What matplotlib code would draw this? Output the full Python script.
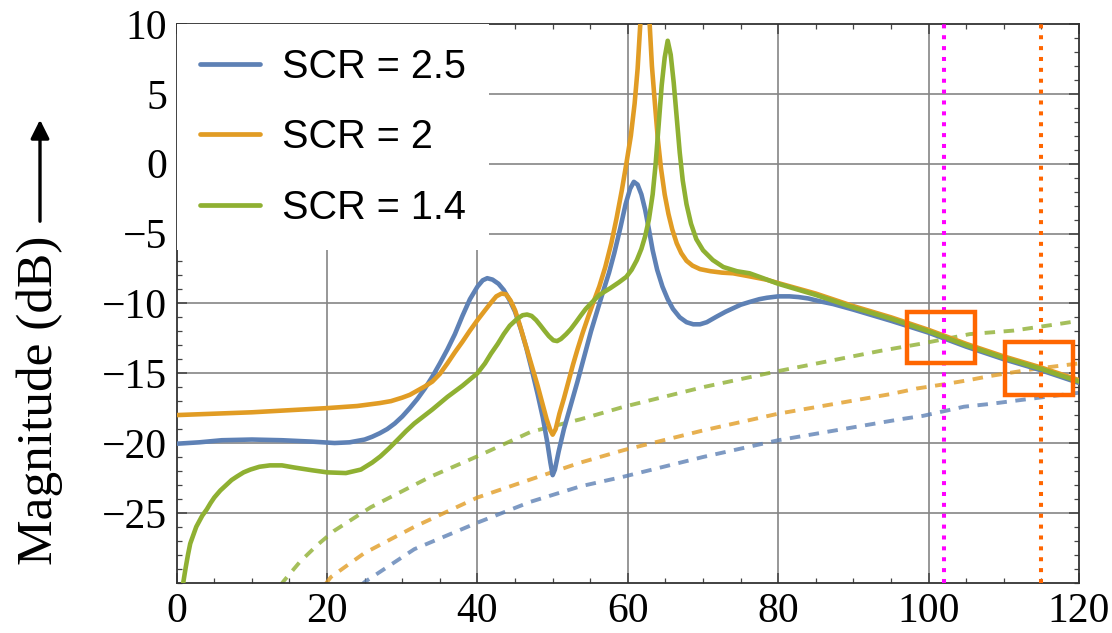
import matplotlib
matplotlib.use("Agg")
import matplotlib.pyplot as plt
from matplotlib.patches import Rectangle, FancyArrowPatch
from matplotlib.ticker import MultipleLocator

# ---------------- data ----------------
labels = ["SCR = 2.5", "SCR = 2", "SCR = 1.4"]

blue_x = [0, 3, 6, 10, 14, 18, 21, 23, 25, 26, 27, 28, 29, 30, 31, 32, 33, 34, 35, 36, 37, 38, 39,
          40, 40.7, 41.3, 42, 42.8, 43.5, 44.2, 45, 45.8, 46.5, 47.2, 48, 48.7, 49.3, 49.7, 50,
          50.3, 50.8, 51.5, 52.4, 53.3, 54.2, 55.1, 56, 56.8, 57.5, 58.2, 59, 59.7, 60.3, 60.8,
          61.3, 61.8, 62.3, 62.8, 63.3, 63.9, 64.6, 65.3, 66.0, 66.9, 67.8, 68.7, 69.6, 70.5, 71.8,
          73, 74, 75, 76.2, 77.5, 78.5, 80, 81.5, 82.7, 84, 85.5, 87.3, 90, 95, 100, 105, 110,
          115, 120]
blue_y = [-20.05, -19.95, -19.8, -19.75, -19.8, -19.9, -20.0, -19.95, -19.75, -19.55, -19.3, -19.0,
          -18.6, -18.1, -17.5, -16.85, -16.1, -15.25, -14.3, -13.3, -12.2, -10.9, -9.7, -8.8,
          -8.35, -8.2, -8.3, -8.6, -9.05, -9.7, -10.6, -11.9, -13.2, -14.7, -16.5, -18.2, -20.0,
          -21.4, -22.3, -21.9, -20.6, -19.0, -17.3, -15.6, -13.8, -12.0, -10.4, -9.0, -7.8, -6.4,
          -4.6, -2.9, -1.8, -1.3, -1.5, -2.2, -3.3, -4.7, -6.2, -7.6, -8.8, -9.7, -10.4, -11.0,
          -11.35, -11.5, -11.5, -11.35, -10.95, -10.6, -10.35, -10.1, -9.9, -9.7, -9.6, -9.5,
          -9.5, -9.55, -9.65, -9.85, -10.05, -10.45, -11.25, -12.1, -13.1, -14.0, -14.8, -15.7]

orange_x = [0, 5, 10, 15, 20, 24, 27, 28.5, 30, 31, 32, 33, 34, 35, 36, 37, 38, 39, 40, 41, 41.8,
            42.5, 43.2, 43.8, 44.4, 45, 45.6, 46.2, 46.8, 47.4, 48.0, 48.6, 49.2, 49.7, 50.0, 50.4,
            50.9, 51.5, 52.1, 52.7, 53.3, 54, 54.7, 55.5, 56.2, 57, 57.8, 58.5, 59.2, 59.8, 60.4,
            60.9, 61.3, 61.6, 62.0, 62.3, 62.6, 62.9, 63.2, 63.6, 64.0, 64.4, 64.9, 65.4, 65.9,
            66.5, 67.1, 67.8, 68.6, 69.6, 71, 72.5, 74, 76, 78.4, 80, 85, 90, 95, 100, 105, 110,
            115, 120]
orange_y = [-18.0, -17.9, -17.8, -17.65, -17.5, -17.35, -17.14, -17.0, -16.75, -16.55, -16.25,
            -15.95, -15.6, -15.05, -14.3, -13.5, -12.75, -11.95, -11.2, -10.5, -9.95, -9.5, -9.3,
            -9.35, -9.8, -10.5, -11.5, -12.6, -13.7, -14.8, -15.9, -17.1, -18.3, -19.1, -19.4,
            -19.0, -17.9, -16.8, -15.6, -14.4, -13.3, -12.1, -11.0, -9.8, -8.8, -7.4, -5.7, -3.9,
            -1.9, 0.0, 2.0, 4.3, 6.8, 9.5, 13.0, 14.5, 13.0, 10.0, 7.0, 4.3, 1.7, -0.3, -2.2, -3.6,
            -4.7, -5.7, -6.4, -6.95, -7.3, -7.55, -7.7, -7.8, -7.85, -8.05, -8.3, -8.55, -9.3,
            -10.2, -11.0, -11.9, -12.9, -13.8, -14.6, -15.5]

green_x = [0.6, 0.9, 1.2, 1.5, 1.8, 2.2, 2.6, 3.0, 3.4, 4.0, 4.5, 5.0, 5.8, 6.7, 7.3, 8.0, 8.9,
           9.8, 11, 12.4, 14.0, 15.6, 18, 20, 22.5, 24.5, 26, 27.1, 28.3, 29.5, 30.5, 31.6, 32.8,
           34, 35, 36, 37, 38, 39, 40, 41, 41.8, 42.7, 43.5, 44.3, 45.3, 46.0, 46.6, 47.2, 47.8,
           48.4, 48.9, 49.5, 50.1, 50.6, 51.1, 51.8, 52.4, 53.1, 53.7, 54.4, 55.1, 56.2, 57.7,
           58.8, 59.8, 60.5, 61.2, 61.8, 62.3, 62.8, 63.3, 63.7, 64.1, 64.5, 64.9, 65.3, 65.7,
           66.1, 66.5, 66.9, 67.3, 67.8, 68.4, 69.1, 70, 71.3, 72.7, 74.5, 76.2, 78, 80, 85, 90,
           95, 100, 105, 110, 115, 120]
green_y = [-31.0, -29.9, -28.9, -28.0, -27.2, -26.6, -26.0, -25.6, -25.2, -24.75, -24.3, -23.9,
           -23.4, -22.95, -22.65, -22.4, -22.1, -21.9, -21.7, -21.6, -21.6, -21.75, -21.95, -22.1,
           -22.15, -21.9, -21.4, -20.95, -20.35, -19.7, -19.15, -18.6, -18.1, -17.6, -17.15, -16.7,
           -16.3, -15.9, -15.45, -15.0, -14.3, -13.6, -12.9, -12.2, -11.6, -11.1, -10.85, -10.8,
           -10.9, -11.2, -11.6, -11.95, -12.35, -12.65, -12.7, -12.55, -12.2, -11.85, -11.35,
           -10.9, -10.4, -10.0, -9.4, -8.9, -8.5, -8.1, -7.6, -6.9, -6.1, -5.2, -4.0, -2.2, 0.0,
           2.8, 5.6, 7.6, 8.8, 7.8, 5.8, 3.3, 0.8, -1.2, -2.9, -4.3, -5.4, -6.2, -6.9, -7.4, -7.7,
           -7.85, -8.2, -8.6, -9.4, -10.3, -11.1, -12.0, -13.0, -13.9, -14.7, -15.6]

# dashed companion curves
blue_d_x = [24.5, 25, 31.6, 40, 47.1, 53.7, 59.5, 70, 80, 96.2, 99.3, 104.7, 108.2, 114, 120]
blue_d_y = [-30.2, -29.95, -27.6, -25.7, -24.2, -23.1, -22.4, -21.0, -19.8, -18.3, -18.05, -17.4,
            -17.2, -16.8, -16.4]
orange_d_x = [19.8, 20.5, 24.9, 31.6, 40, 47.1, 53.7, 59.5, 70, 80, 94.9, 98.4, 102, 105.3, 108.2,
              114, 120]
orange_d_y = [-30.1, -29.6, -27.9, -26.0, -23.9, -22.6, -21.4, -20.5, -19.1, -17.9, -16.5, -16.1,
              -15.8, -15.5, -15.2, -14.7, -14.3]
green_d_x = [13.8, 14.2, 16.4, 18.7, 20.9, 25.8, 33.8, 40, 47.1, 53.7, 59.5, 70, 80, 93.6, 98.9,
             105.5, 111.3, 117.5, 120]
green_d_y = [-30.2, -29.9, -28.5, -27.3, -26.3, -24.6, -22.4, -20.95, -19.2, -18.3, -17.4, -16.0,
             -14.85, -13.4, -12.9, -12.2, -11.95, -11.46, -11.25]

# vertical markers and highlight boxes (x0, x1, y0, y1)
vline_magenta = 102
vline_orange = 115
box1 = [97.1, 106.2, -14.3, -10.6]
box2 = [110.2, 119.2, -16.56, -12.76]

x_ticks = [0, 20, 40, 60, 80, 100, 120]
y_ticks = [-25, -20, -15, -10, -5, 0, 5, 10]

# ---------------- drawing ----------------
C_BLUE = "#5E81B5"
C_ORANGE = "#E19C24"
C_GREEN = "#8FB032"

fig = plt.figure(figsize=(11.12, 6.33), dpi=100)
ax = fig.add_axes([176.7 / 1112, 1 - 582.7 / 633, (1079 - 176.7) / 1112, (582.7 - 24) / 633])

ax.set_xlim(0, 120)
ax.set_ylim(-30, 10)

# grid
for xv in x_ticks[1:-1]:
    ax.axvline(xv, color="#858585", lw=1.2, zorder=0.5)
for yv in y_ticks[:-1]:
    ax.axhline(yv, color="#858585", lw=1.2, zorder=0.5)

dash_kw = dict(lw=2.8, dashes=(2.7, 2.2), alpha=0.8, dash_capstyle="butt")
ax.plot(green_d_x, green_d_y, color=C_GREEN, **dash_kw)
ax.plot(orange_d_x, orange_d_y, color=C_ORANGE, **dash_kw)
ax.plot(blue_d_x, blue_d_y, color=C_BLUE, **dash_kw)

solid_kw = dict(lw=3.3, solid_joinstyle="round", solid_capstyle="round")
l1, = ax.plot(blue_x, blue_y, color=C_BLUE, label=labels[0], zorder=3, **solid_kw)
l2, = ax.plot(orange_x, orange_y, color=C_ORANGE, label=labels[1], zorder=3.1, **solid_kw)
l3, = ax.plot(green_x, green_y, color=C_GREEN, label=labels[2], zorder=3.2, **solid_kw)

ax.axvline(vline_magenta, color="#FF00FF", lw=2.9, dashes=(1, 1.7), dash_capstyle="butt", zorder=4)
ax.axvline(vline_orange, color="#FF6600", lw=2.9, dashes=(1, 1.7), dash_capstyle="butt", zorder=4)

for b in (box1, box2):
    ax.add_patch(Rectangle((b[0], b[2]), b[1] - b[0], b[3] - b[2], fill=False,
                           edgecolor="#FF6600", lw=3.2, zorder=5, joinstyle="miter"))

# ticks
ax.set_xticks(x_ticks)
ax.set_yticks(y_ticks)
ax.xaxis.set_minor_locator(MultipleLocator(5))
ax.yaxis.set_minor_locator(MultipleLocator(1))
ax.tick_params(which="both", direction="in", top=True, right=True, color="#444444")
ax.tick_params(which="major", length=7, width=1.1, pad=7, labelsize=30,
               labelfontfamily="Liberation Serif")
ax.tick_params(which="minor", length=3.5, width=0.9)
for sp in ax.spines.values():
    sp.set_color("#333333")
    sp.set_linewidth(1.3)

leg = ax.legend(handles=[l1, l2, l3], loc="upper left", bbox_to_anchor=(0, 1),
                borderaxespad=0, frameon=True, fancybox=False, framealpha=1,
                facecolor="white", edgecolor="none",
                prop={"family": "Liberation Sans", "size": 28.5},
                handlelength=1.5, handletextpad=0.55, labelspacing=0.82,
                borderpad=0.6)
leg.set_zorder(6)
for h in leg.get_lines():
    h.set_linewidth(3.4)

# y label with arrow
fig.text(40 / 1112, 1 - 400 / 633, "Magnitude (dB)", rotation=90, ha="center", va="center",
         family="Liberation Serif", fontsize=37)
fig.patches.append(FancyArrowPatch(
    (40 / 1112, 1 - 224 / 633), (40 / 1112, 1 - 117 / 633), transform=fig.transFigure,
    arrowstyle="-|>", mutation_scale=28, lw=2.4, color="black"))

fig.savefig("out.png", dpi=100)
